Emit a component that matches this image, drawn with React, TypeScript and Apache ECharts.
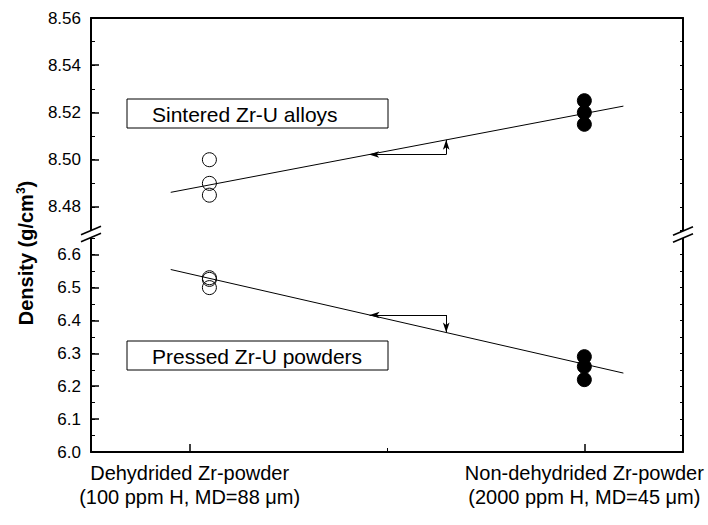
import React, { useEffect, useRef } from "react";
import * as echarts from "echarts";

// Category positions on the x axis (Dehydrided = 1, Non-dehydrided = 2)
const categoryX = [1, 2];
const categoryLabels = [
  "Dehydrided Zr-powder\n(100 ppm H, MD=88 μm)",
  "Non-dehydrided Zr-powder\n(2000 ppm H, MD=45 μm)",
];
// open symbols sit a little to the right of their category tick
const dehydridedX = 1.05;
const nonDehydridedX = 2;

// Sintered Zr-U alloys (g/cm3)
const sinteredDehydrided = [8.5, 8.49, 8.485];
const sinteredNonDehydrided = [8.525, 8.52, 8.515];
// Pressed Zr-U powders (g/cm3)
const pressedDehydrided = [6.53, 6.525, 6.5];
const pressedNonDehydrided = [6.29, 6.26, 6.22];

// Trend lines: [x, density] end points
const sinteredTrend = [
  [0.952, 8.4862],
  [2.099, 8.5227],
];
const pressedTrend = [
  [0.952, 6.555],
  [2.099, 6.24],
];

// Axis pointers (corner of the L-shaped arrows)
const arrowCornerX = 1.65;
const sinteredArrowY = 8.5022;
const pressedArrowY = 6.4166;

// Tick labels
const upperTicks = [8.48, 8.5, 8.52, 8.54, 8.56];
const lowerTicks = [6.0, 6.1, 6.2, 6.3, 6.4, 6.5, 6.6];

const FONT = "'Liberation Sans', Arial, Helvetica, sans-serif";

function trendAt(trend: number[][], x: number) {
  const [[x0, y0], [x1, y1]] = trend;
  return y0 + ((y1 - y0) * (x - x0)) / (x1 - x0);
}
function trendXAt(trend: number[][], y: number) {
  const [[x0, y0], [x1, y1]] = trend;
  return x0 + ((y - y0) * (x1 - x0)) / (y1 - y0);
}

function arrowSegments(trend: number[][], cornerY: number) {
  const corner = [arrowCornerX, cornerY];
  const head = { symbol: "arrow", symbolSize: [5, 10] };
  return [
    [
      { coord: corner, symbol: "none" },
      { coord: [trendXAt(trend, cornerY), cornerY], ...head },
    ],
    [
      { coord: corner, symbol: "none" },
      { coord: [arrowCornerX, trendAt(trend, arrowCornerX)], ...head },
    ],
  ];
}

const black = "#000";
const axisLine = { show: true, lineStyle: { color: black, width: 2 } };

function breakMark(cx: number, cy: number) {
  // two parallel slanted strokes across the axis with a white gap between them
  const up = (x: number) => cy - 3.5 + (-(x - cx) * 8) / 19;
  const lo = (x: number) => cy + 3.5 + (-(x - cx) * 8) / 19;
  return [
    {
      type: "polygon",
      z: 100,
      shape: {
        points: [
          [cx - 4, up(cx - 4)],
          [cx + 4, up(cx + 4)],
          [cx + 4, lo(cx + 4)],
          [cx - 4, lo(cx - 4)],
        ],
      },
      style: { fill: "#fff", stroke: null },
    },
    {
      type: "line",
      z: 101,
      shape: { x1: cx - 10, y1: up(cx - 10), x2: cx + 10, y2: up(cx + 10) },
      style: { stroke: black, lineWidth: 1.6 },
    },
    {
      type: "line",
      z: 101,
      shape: { x1: cx - 10, y1: lo(cx - 10), x2: cx + 10, y2: lo(cx + 10) },
      style: { stroke: black, lineWidth: 1.6 },
    },
  ];
}

function labelBox(x: number, y: number, w: number, h: number, text: string) {
  return [
    {
      type: "rect",
      z: 50,
      shape: { x, y, width: w, height: h },
      style: { fill: "#fff", stroke: black, lineWidth: 1 },
    },
    {
      type: "text",
      z: 51,
      x: x + 25,
      y: y + h / 2 + 1,
      style: {
        text,
        fill: black,
        font: `21px ${FONT}`,
        verticalAlign: "middle",
        align: "left",
      },
    },
  ];
}

export default function App() {
  const ref = useRef<HTMLDivElement>(null);

  useEffect(() => {
    if (!ref.current) return;
    const chart = echarts.init(ref.current, undefined, { renderer: "svg" });

    const openSymbol = {
      symbolSize: 14,
      itemStyle: { color: "rgba(0,0,0,0)", borderColor: black, borderWidth: 1, opacity: 1 },
    };
    const filledSymbol = {
      symbolSize: 14,
      itemStyle: { color: black, borderColor: black, borderWidth: 1, opacity: 1 },
    };
    const trendStyle = {
      type: "line",
      symbol: "none",
      lineStyle: { color: black, width: 1 },
      z: 3,
    };
    const markLineBase = {
      silent: true,
      symbol: ["none", "arrow"],
      label: { show: false },
      lineStyle: { color: black, width: 1, type: "solid" },
      emphasis: { disabled: true },
    };

    const yMajor = (grid: number, min: number, max: number, ticks: number[], digits: number) => ({
      type: "value",
      gridIndex: grid,
      position: "left",
      min,
      max,
      axisLine,
      splitLine: { show: false },
      axisTick: { show: true, inside: true, length: 8, customValues: ticks, lineStyle: { color: black, width: 1.5 } },
      axisLabel: {
        customValues: ticks,
        formatter: (v: number) => v.toFixed(digits),
        color: black,
        fontSize: 17,
        fontFamily: FONT,
        margin: 10,
      },
    });
    const yMinor = (grid: number, min: number, max: number, step: number, position: string, len: number, line: boolean) => ({
      type: "value",
      gridIndex: grid,
      position,
      min,
      max,
      interval: step,
      axisLine: line ? axisLine : { show: false },
      splitLine: { show: false },
      axisTick: { show: true, inside: true, length: len, lineStyle: { color: black, width: 1 } },
      axisLabel: { show: false },
    });

    chart.setOption({
      animation: false,
      textStyle: { fontFamily: FONT },
      grid: [
        { left: 91, top: 18, width: 592, height: 212.6 },
        { left: 91, top: 231.7, width: 592, height: 220.3 },
      ],
      xAxis: [
        {
          type: "value",
          gridIndex: 0,
          position: "top",
          min: 0.75,
          max: 2.25,
          axisLine,
          axisTick: { show: false },
          axisLabel: { show: false },
          splitLine: { show: false },
        },
        {
          type: "value",
          gridIndex: 1,
          position: "bottom",
          min: 0.75,
          max: 2.25,
          axisLine,
          splitLine: { show: false },
          axisTick: { show: true, inside: true, length: 8, customValues: categoryX, lineStyle: { color: black, width: 1.5 } },
          axisLabel: {
            customValues: categoryX,
            formatter: (v: number) => categoryLabels[Math.round(v) - 1],
            color: black,
            fontSize: 20,
            lineHeight: 24,
            fontFamily: FONT,
            margin: 9,
          },
        },
        {
          type: "value",
          gridIndex: 1,
          position: "bottom",
          min: 0.75,
          max: 2.25,
          axisLine: { show: false },
          splitLine: { show: false },
          axisTick: { show: true, inside: true, length: 4, customValues: [1.5], lineStyle: { color: black, width: 1 } },
          axisLabel: { show: false },
        },
      ],
      yAxis: [
        yMajor(0, 8.47, 8.56, upperTicks, 2),
        yMinor(0, 8.47, 8.56, 0.01, "left", 4, false),
        yMinor(0, 8.47, 8.56, 0.01, "right", 3, true),
        yMajor(1, 6.0, 6.67, lowerTicks, 1),
        yMinor(1, 6.0, 6.67, 0.05, "left", 4, false),
        yMinor(1, 6.0, 6.67, 0.05, "right", 3, true),
      ],
      series: [
        {
          ...trendStyle,
          xAxisIndex: 0,
          yAxisIndex: 0,
          data: sinteredTrend,
          markLine: { ...markLineBase, data: arrowSegments(sinteredTrend, sinteredArrowY) },
        },
        {
          type: "scatter",
          xAxisIndex: 0,
          yAxisIndex: 0,
          z: 4,
          ...openSymbol,
          data: sinteredDehydrided.map((v) => [dehydridedX, v]),
        },
        {
          type: "scatter",
          xAxisIndex: 0,
          yAxisIndex: 0,
          z: 4,
          ...filledSymbol,
          data: sinteredNonDehydrided.map((v) => [nonDehydridedX, v]),
        },
        {
          ...trendStyle,
          xAxisIndex: 1,
          yAxisIndex: 3,
          data: pressedTrend,
          markLine: { ...markLineBase, data: arrowSegments(pressedTrend, pressedArrowY) },
        },
        {
          type: "scatter",
          xAxisIndex: 1,
          yAxisIndex: 3,
          z: 4,
          ...openSymbol,
          data: pressedDehydrided.map((v) => [dehydridedX, v]),
        },
        {
          type: "scatter",
          xAxisIndex: 1,
          yAxisIndex: 3,
          z: 4,
          ...filledSymbol,
          data: pressedNonDehydrided.map((v) => [nonDehydridedX, v]),
        },
      ],
      graphic: [
        ...breakMark(91, 234),
        ...breakMark(683, 234.5),
        ...labelBox(127, 99, 261, 29, "Sintered Zr-U alloys"),
        ...labelBox(127, 341, 261, 29, "Pressed Zr-U powders"),
        {
          type: "text",
          z: 60,
          x: 26,
          y: 253,
          rotation: Math.PI / 2,
          style: {
            text: "{b|Density (g/cm}{s|3}{b|)}",
            align: "center",
            verticalAlign: "middle",
            fill: black,
            rich: {
              b: { fontSize: 20, fontWeight: "bold", fontFamily: FONT, fill: black, lineHeight: 23 },
              s: { fontSize: 12, fontWeight: "bold", fontFamily: FONT, fill: black, padding: [0, 0, 10, 0] },
            },
          },
        },
      ],
    });

    return () => chart.dispose();
  }, []);

  return (
    <div
      ref={ref}
      style={{ position: "fixed", left: 0, top: 0, width: 708, height: 525, background: "#fff" }}
    />
  );
}
